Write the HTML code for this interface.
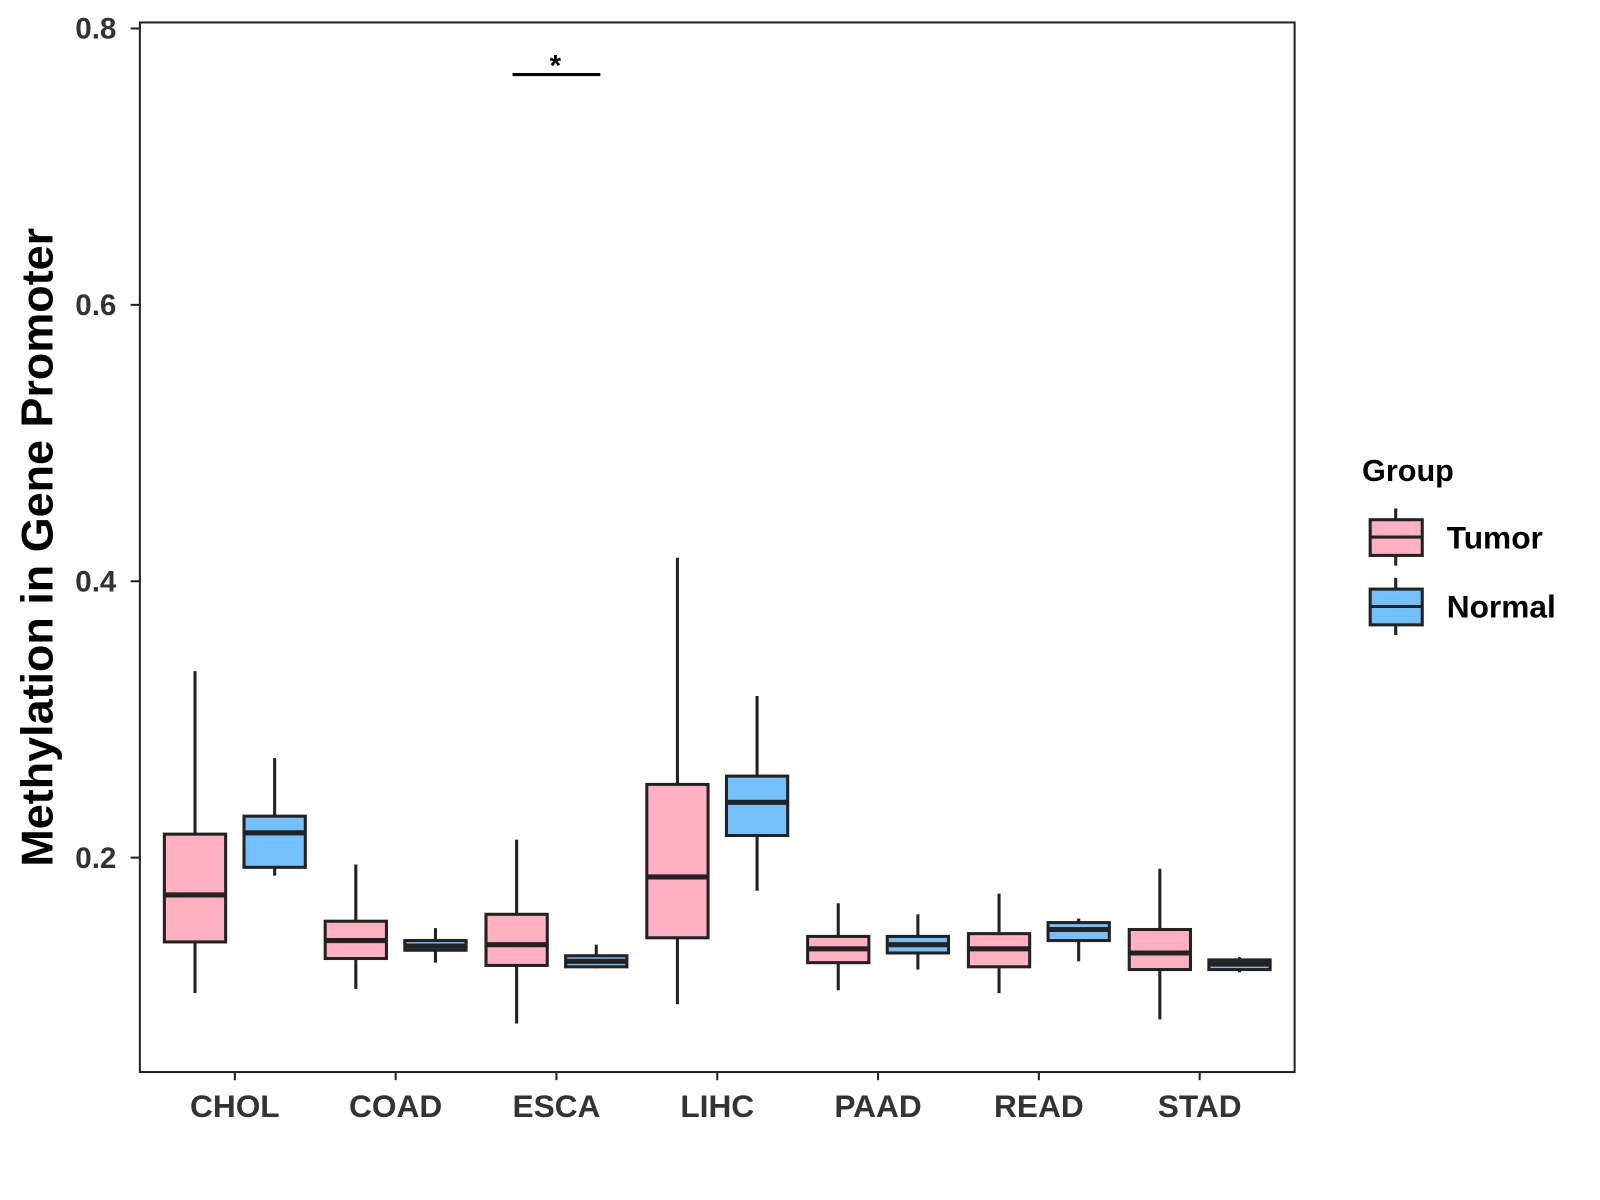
<!DOCTYPE html>
<html><head><meta charset="utf-8"><style>
html,body{margin:0;padding:0;background:#fff;}
svg{display:block;font-family:"Liberation Sans",Arial,sans-serif;font-weight:bold;}
</style></head><body>
<svg id="chart" width="1600" height="1200" viewBox="0 0 1600 1200">
<g transform="scale(1.021)">
<rect x="137" y="22" width="1131" height="1028" fill="#fff" stroke="#222" stroke-width="2"/>
<g id="yaxis"></g>
<g id="xaxis"></g>
<g id="boxes"></g>
<text x="40" y="536" font-size="44" fill="#000" text-anchor="middle" transform="rotate(-90 40 536)" dominant-baseline="middle">Methylation in Gene Promoter</text>
<line x1="502" y1="73" x2="588" y2="73" stroke="#000" stroke-width="3"/>
<text x="544" y="74" font-size="29" text-anchor="middle" fill="#000">*</text>
<g>
<text x="1334" y="471" font-size="30" fill="#000">Group</text>
<g>
<line x1="1367" y1="498" x2="1367" y2="554" stroke="#222" stroke-width="3"/>
<rect x="1342" y="509" width="51" height="35" fill="#FFB0C1" stroke="#222" stroke-width="3"/>
<line x1="1342" y1="526" x2="1393" y2="526" stroke="#222" stroke-width="3"/>
<text x="1417" y="537" font-size="31" fill="#000">Tumor</text>
</g>
<g>
<line x1="1367" y1="566" x2="1367" y2="622" stroke="#222" stroke-width="3"/>
<rect x="1342" y="577" width="51" height="35" fill="#74C0FC" stroke="#222" stroke-width="3"/>
<line x1="1342" y1="594" x2="1393" y2="594" stroke="#222" stroke-width="3"/>
<text x="1417" y="605" font-size="31" fill="#000">Normal</text>
</g>
</g>
</g>
</svg>
<script>
const categories=["CHOL","COAD","ESCA","LIHC","PAAD","READ","STAD"];
// [lowWhisker, Q1, median, Q3, highWhisker]
const tumorStats=[[0.102,0.139,0.173,0.217,0.335],[0.105,0.127,0.140,0.154,0.195],[0.080,0.122,0.137,0.159,0.213],[0.094,0.142,0.186,0.253,0.417],[0.104,0.124,0.134,0.143,0.167],[0.102,0.121,0.134,0.145,0.174],[0.083,0.119,0.131,0.148,0.192]];
const normalStats=[[0.187,0.193,0.218,0.230,0.272],[0.124,0.133,0.136,0.140,0.149],[0.120,0.121,0.125,0.129,0.137],[0.176,0.216,0.240,0.259,0.317],[0.119,0.131,0.137,0.143,0.159],[0.125,0.140,0.148,0.153,0.156],[0.117,0.119,0.123,0.126,0.128]];
const yTicks=[0.2,0.4,0.6,0.8];
const NS="http://www.w3.org/2000/svg";
function y(v){return 840-(v-0.2)*1353.5;}
function x(i){return 230+i*157.5;}
function mk(tag,attrs,parent){const e=document.createElementNS(NS,tag);for(const k in attrs)e.setAttribute(k,attrs[k]);parent.appendChild(e);return e;}
const ya=document.getElementById('yaxis'),xa=document.getElementById('xaxis'),bx=document.getElementById('boxes');
yTicks.forEach(t=>{
  const l=mk('line',{x1:128,x2:137,y1:y(t),y2:y(t),stroke:'#222','stroke-width':2},ya);
  
  
  const tx=mk('text',{x:114,y:y(t)+10,'font-size':29,fill:'#333','text-anchor':'end'},ya);
  tx.textContent=t.toFixed(1);
  
  
});
categories.forEach((c,i)=>{
  const l=mk('line',{x1:x(i),x2:x(i),y1:1050,y2:1058,stroke:'#222','stroke-width':2},xa);
  
  
  const tx=mk('text',{x:x(i),y:1094,'font-size':31,fill:'#333','text-anchor':'middle'},xa);
  tx.textContent=c;
  
  
});
function box(s,cx,fill,name){
  const g=mk('g',{},bx);
  
  
  mk('line',{x1:cx,x2:cx,y1:y(s[0]),y2:y(s[4]),stroke:'#222','stroke-width':3},g);
  mk('rect',{x:cx-30,y:y(s[3]),width:60,height:y(s[1])-y(s[3]),fill:fill,stroke:'#222','stroke-width':3},g);
  mk('line',{x1:cx-30,x2:cx+30,y1:y(s[2]),y2:y(s[2]),stroke:'#222','stroke-width':5},g);
}
categories.forEach((c,i)=>{
  box(tumorStats[i],x(i)-39,'#FFB0C1','box-tumor-'+c.toLowerCase());
  box(normalStats[i],x(i)+39,'#74C0FC','box-normal-'+c.toLowerCase());
});
</script>
</body></html>
